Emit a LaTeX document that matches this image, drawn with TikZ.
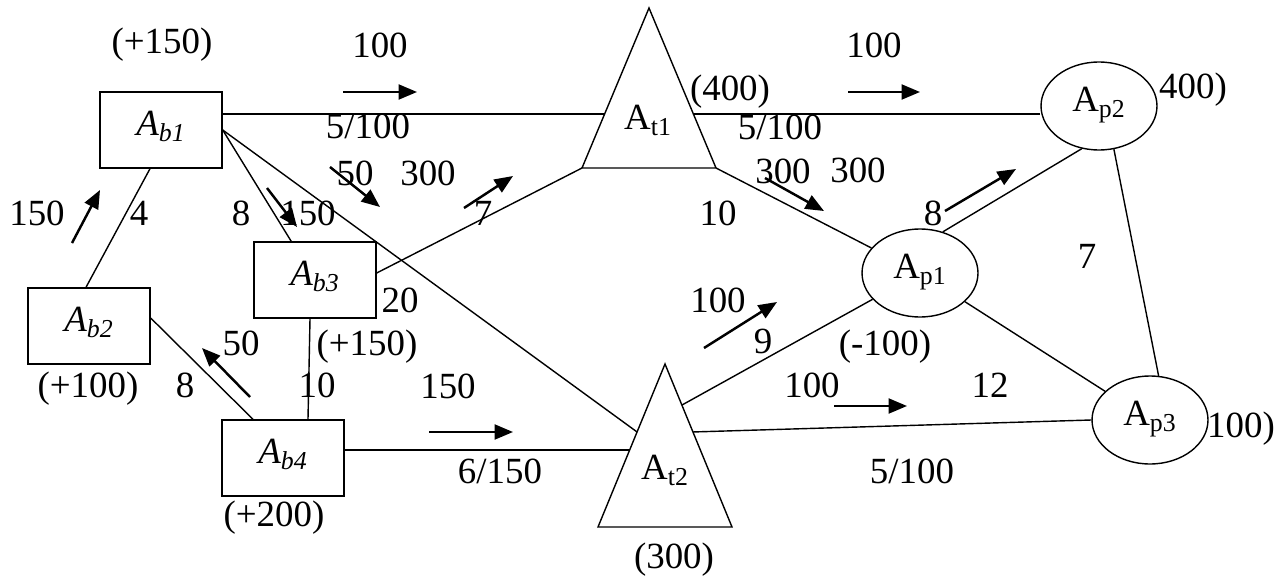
\documentclass[tikz,border=0pt]{standalone}
\usepackage{fontspec}
\setmainfont{Liberation Serif}
\usetikzlibrary{arrows.meta,calc,shapes.geometric}

\tikzset{
  depot/.style={draw, line width=0.8pt, minimum width=2.44cm, minimum height=1.52cm, inner sep=0pt},
  sink/.style={draw, ellipse, line width=0.8pt, minimum width=2.32cm, minimum height=1.76cm, inner sep=0pt},
  lbl/.style={font=\fontsize{21}{25}\selectfont, inner sep=0pt, text height=0.68em, text depth=0pt},
  link/.style={line width=0.8pt},
  flow/.style={-{Triangle[length=10.5pt,width=8.5pt]}, line width=1.4pt}
}

\begin{document}
\begin{tikzpicture}[x=0.02cm, y=-0.02cm]
                \useasboundingbox (0,0) rectangle (1287,581);

                % bases
                \node[depot, lbl] (Ab1) at (161,130) {\textit{A\textsubscript{b1}}};
                \node[depot, lbl] (Ab2) at (89,326) {\textit{A\textsubscript{b2}}};
                \node[depot, lbl] (Ab3) at (315,280) {\textit{A\textsubscript{b3}}};
                \node[depot, lbl] (Ab4) at (283,458) {\textit{A\textsubscript{b4}}};

                % transit points
                \coordinate (t1A) at (649,8);
                \coordinate (t1L) at (582,168);
                \coordinate (t1R) at (716,168);
                \coordinate (t2A) at (665,364);
                \coordinate (t2L) at (598,527);
                \coordinate (t2R) at (732,527);
                \draw[link] (t1A) -- (t1L) -- (t1R) -- cycle;
                \draw[link] (t2A) -- (t2L) -- (t2R) -- cycle;
                \node[lbl] (At1) at (648,124) {A\textsubscript{t1}};
                \node[lbl] (At2) at (665,474) {A\textsubscript{t2}};

                \coordinate (t1w) at ($(t1L)!0.3375!(t1A)$);
                \coordinate (t1e) at ($(t1R)!0.3375!(t1A)$);
                \coordinate (t2nw) at ($(t2L)!0.583!(t2A)$);
                \coordinate (t2w) at ($(t2L)!0.472!(t2A)$);
                \coordinate (t2ne) at ($(t2R)!0.748!(t2A)$);
                \coordinate (t2e) at ($(t2R)!0.583!(t2A)$);

                % consumers
                \node[sink, lbl] (Ap1) at (920,273) {A\textsubscript{p1}};
                \node[sink, lbl] (Ap2) at (1099,106) {A\textsubscript{p2}};
                \node[sink, lbl] (Ap3) at (1150,420) {A\textsubscript{p3}};

                % roads
                \draw[link] (Ab1.east |- t1w) -- (t1w);
                \draw[link] (t1e) -- (t1e -| Ap2.west);
                \draw[link] (Ab1.east) -- (Ab3);
                \draw[link] (Ab1.east) -- (t2nw);
                \draw[link] ([xshift=-0.22cm]Ab1.south) -- ([xshift=-0.06cm]Ab2.north);
                \draw[link] ([yshift=0.16cm]Ab2.east) -- ([xshift=-0.6cm]Ab4.north);
                \draw[link] ([xshift=-0.1cm]Ab3.south) -- ([xshift=0.5cm]Ab4.north);
                \draw[link] ([yshift=0.14cm]Ab3.east) -- (t1L);
                \draw[link] (Ab4.east |- t2w) -- (t2w);
                \draw[link] (t1R) -- (Ap1);
                \draw[link] (t2ne) -- (Ap1);
                \draw[link] (t2e) -- (Ap3.west);
                \draw[link] (Ap1.61) -- (Ap2.248);
                \draw[link] (Ap1) -- (Ap3);
                \draw[link] (Ap2.289) -- (Ap3.79);

                % flows
                \draw[flow] (343,92) -- (417,92);
                \draw[flow] (848,92) -- (920,92);
                \draw[flow] (72,243) -- (100,190);
                \draw[flow] (267,188) -- (297,227);
                \draw[flow] (330,167) -- (380,207);
                \draw[flow] (464,208) -- (513,176);
                \draw[flow] (765,178) -- (824,211);
                \draw[flow] (945,211) -- (1016,169);
                \draw[flow] (704,348) -- (777,302);
                \draw[flow] (834,406) -- (907,406);
                \draw[flow] (429,432) -- (513,432);
                \draw[flow] (250,397) -- (202,348);

                % stocks and amounts
                \node[lbl] (s1) at (162,48) {(+150)};
                \node[lbl] (s2) at (88,392) {(+100)};
                \node[lbl] (s3) at (367,350) {(+150)};
                \node[lbl] (s4) at (274,521) {(+200)};
                \node[lbl] (s5) at (730,95) {(400)};
                \node[lbl] (s6) at (674,563) {(300)};
                \node[lbl] (s7) at (885,350) {(-100)};
                \node[lbl] (s8) at (1193,93) {400)};
                \node[lbl] (s9) at (1241,432) {100)};

                \node[lbl] (q1) at (380,52) {100};
                \node[lbl] (q2) at (368,133) {5/100};
                \node[lbl] (q3) at (355,180) {50};
                \node[lbl] (q4) at (428,180) {300};
                \node[lbl] (q5) at (37,220) {150};
                \node[lbl] (q6) at (139,220) {4};
                \node[lbl] (q7) at (241,220) {8};
                \node[lbl] (q8) at (308,220) {150};
                \node[lbl] (q9) at (483,220) {7};
                \node[lbl] (q10) at (718,220) {10};
                \node[lbl] (q11) at (780,134) {5/100};
                \node[lbl] (q12) at (783,178) {300};
                \node[lbl] (q13) at (858,177) {300};
                \node[lbl] (q14) at (874,52) {100};
                \node[lbl] (q15) at (933,220) {8};
                \node[lbl] (q16) at (1087,263) {7};
                \node[lbl] (q17) at (400,307) {20};
                \node[lbl] (q18) at (241,350) {50};
                \node[lbl] (q19) at (185,392) {8};
                \node[lbl] (q20) at (317,392) {10};
                \node[lbl] (q21) at (448,393) {150};
                \node[lbl] (q22) at (718,307) {100};
                \node[lbl] (q23) at (763,348) {9};
                \node[lbl] (q24) at (812,392) {100};
                \node[lbl] (q25) at (990,392) {12};
                \node[lbl] (q26) at (500,478) {6/150};
                \node[lbl] (q27) at (912,478) {5/100};
            \end{tikzpicture}
\end{document}
